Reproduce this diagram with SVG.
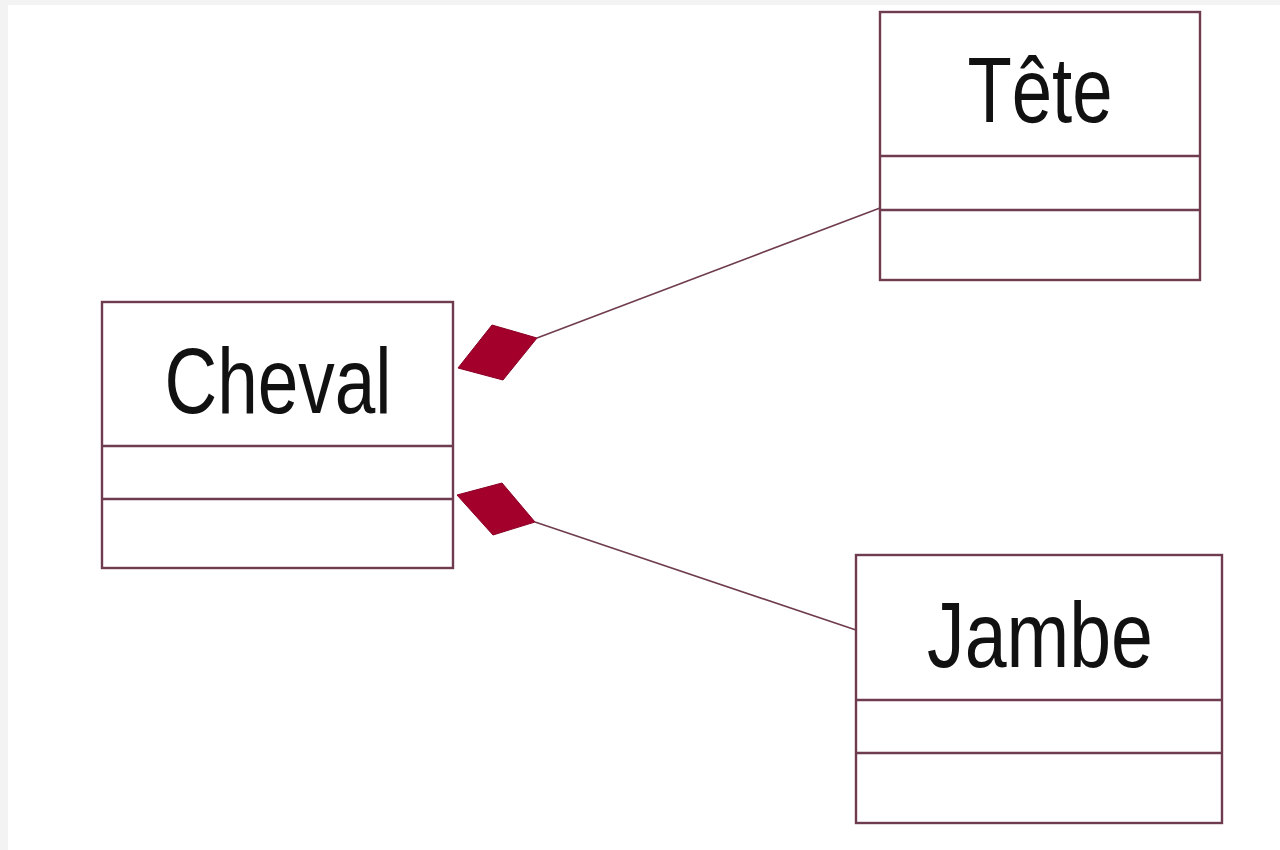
<svg xmlns="http://www.w3.org/2000/svg" width="1280" height="850" viewBox="0 0 1280 850">
  <defs>
    <style>
      .box { fill: #ffffff; stroke: #6e3c4e; stroke-width: 2.4; }
      .sep { stroke: #6e3c4e; stroke-width: 2.4; }
      .name { font-family: "Liberation Sans", Arial, sans-serif; font-size: 92px; fill: #111111; text-anchor: middle; }
      .link { stroke: #6e3c4e; stroke-width: 1.6; fill: none; }
      .comp { fill: #a3002c; stroke: #8a0026; stroke-width: 1; }
    </style>
  </defs>

  <!-- page -->
  <rect x="0" y="0" width="1280" height="850" fill="#f3f3f3"/>
  <rect x="8" y="5" width="1272" height="845" fill="#ffffff"/>

  <!-- composition links -->
  <g id="connectors">
    <line class="link" x1="537" y1="338" x2="880" y2="208"/>
    <polygon class="comp" points="458,368 492,325 537,338 503,380"/>
    <line class="link" x1="535" y1="522" x2="856" y2="630"/>
    <polygon class="comp" points="457,495 502,483 535,522 493,535"/>
  </g>

  <!-- Cheval -->
  <g id="cheval">
    <rect class="box" x="102" y="302" width="351" height="266"/>
    <line class="sep" x1="102" y1="446" x2="453" y2="446"/>
    <line class="sep" x1="102" y1="499" x2="453" y2="499"/>
    <text class="name" x="278" y="413" textLength="227" lengthAdjust="spacingAndGlyphs">Cheval</text>
  </g>

  <!-- Tête -->
  <g id="tete">
    <rect class="box" x="880" y="12" width="320" height="268"/>
    <line class="sep" x1="880" y1="156" x2="1200" y2="156"/>
    <line class="sep" x1="880" y1="210" x2="1200" y2="210"/>
    <text class="name" x="1040" y="122" textLength="145" lengthAdjust="spacingAndGlyphs">Tête</text>
  </g>

  <!-- Jambe -->
  <g id="jambe">
    <rect class="box" x="856" y="555" width="366" height="268"/>
    <line class="sep" x1="856" y1="700" x2="1222" y2="700"/>
    <line class="sep" x1="856" y1="753" x2="1222" y2="753"/>
    <text class="name" x="1040" y="667" textLength="226" lengthAdjust="spacingAndGlyphs">Jambe</text>
  </g>
</svg>
